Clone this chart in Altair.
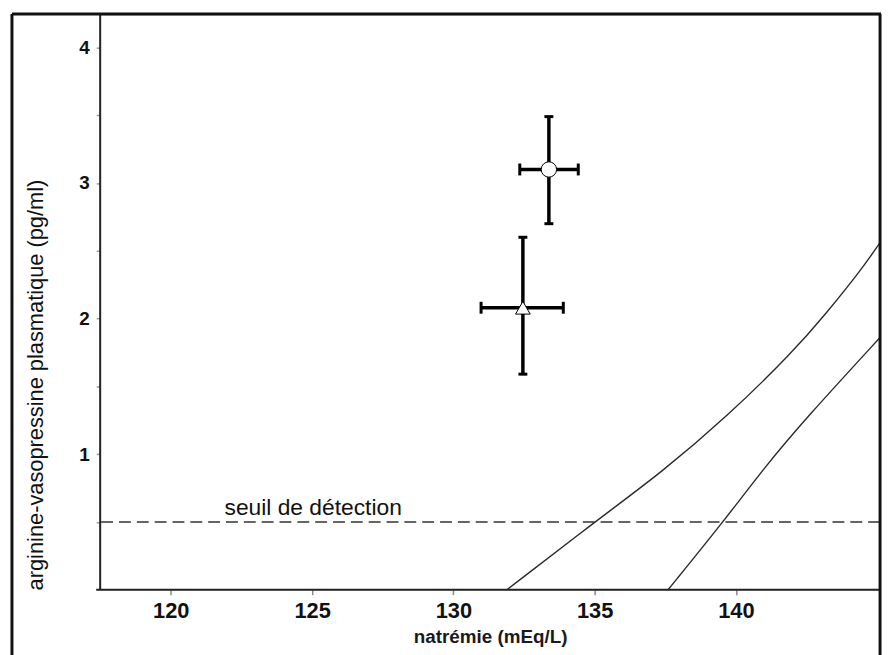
import altair as alt
import pandas as pd

# ---- data ----
x_ticks = [120, 125, 130, 135, 140]
y_ticks = [0.5, 1, 1.5, 2, 2.5, 3, 3.5, 4]

curve1_x = [131.9, 135.0, 137.4, 139.7, 142.0, 143.2, 144.4, 145.1]
curve1_y = [0.0, 0.5, 0.87, 1.28, 1.75, 2.04, 2.35, 2.56]
curve2_x = [137.6, 139.55, 141.0, 142.5, 145.1]
curve2_y = [0.0, 0.5, 0.9, 1.27, 1.86]

threshold = [0.5]
threshold_label = ["seuil de détection"]

pt_name = ["rond", "triangle"]
pt_x = [133.38, 132.46]
pt_y = [3.10, 2.08]
pt_x_lo = [132.35, 130.98]
pt_x_hi = [134.42, 133.89]
pt_y_lo = [2.70, 1.59]
pt_y_hi = [3.49, 2.60]

X_DOM = [117.5, 145.1]
Y_DOM = [0, 4.24]
W, H = 787, 580
FONT = "Liberation Sans"

curves = pd.DataFrame({
    "x": curve1_x + curve2_x,
    "y": curve1_y + curve2_y,
    "c": ["a"] * len(curve1_x) + ["b"] * len(curve2_x),
})
pts = pd.DataFrame({"name": pt_name, "x": pt_x, "y": pt_y,
                    "xlo": pt_x_lo, "xhi": pt_x_hi, "ylo": pt_y_lo, "yhi": pt_y_hi})
thr = pd.DataFrame({"y": threshold, "label": threshold_label, "x": [121.9], "ty": [0.55]})
one = pd.DataFrame({"k": [0]})

xs = alt.Scale(domain=X_DOM, nice=False, zero=False)
ys = alt.Scale(domain=Y_DOM, nice=False, zero=False)

x_axis = alt.Axis(values=x_ticks, labelFont=FONT, labelFontWeight="bold", labelFontSize=22,
                  labelColor="#111", labelPadding=6, tickSize=5, tickColor="#888", tickWidth=1.5,
                  domain=False, grid=False, title="natrémie (mEq/L)", titleFont=FONT,
                  titleFontSize=19, titleFontWeight="bold", titleColor="#1a1a1a",
                  titleY=53, titleBaseline="alphabetic", titleAnchor="middle")
y_axis = alt.Axis(values=y_ticks, labelExpr="datum.value % 1 == 0 ? format(datum.value, 'd') : ''",
                  labelFont=FONT, labelFontWeight="bold", labelFontSize=19, labelColor="#111",
                  labelPadding=7, tickSize=4, tickColor="#999", tickWidth=1.5, domain=False, grid=False,
                  title="arginine-vasopressine plasmatique (pg/ml)", titleFont=FONT, titleFontSize=22,
                  titleFontWeight="normal", titleColor="#111", titleAngle=-90, titleX=-58, titleY=373,
                  titleAlign="center", titleBaseline="alphabetic")


def X(field):
    return alt.X(field, scale=xs, axis=x_axis)


def Y(field):
    return alt.Y(field, scale=ys, axis=y_axis)


lines = alt.Chart(curves).mark_line(color="#2a2a2a", strokeWidth=1.4, interpolate="basis",
                                    clip=True).encode(x=X("x:Q"), y=Y("y:Q"), detail="c:N")

dash = alt.Chart(thr).mark_rule(color="#333", strokeWidth=1.6, strokeDash=[12, 6]).encode(
    y=Y("y:Q"))

label = alt.Chart(thr).mark_text(align="left", baseline="alphabetic", font=FONT, fontSize=23,
                                 color="#111").encode(x=X("x:Q"), y=Y("ty:Q"), text="label:N")

vbar = alt.Chart(pts).mark_rule(color="black", strokeWidth=3.5).encode(
    x=X("x:Q"), y=Y("ylo:Q"), y2="yhi:Q")
hbar = alt.Chart(pts).mark_rule(color="black", strokeWidth=3.5).encode(
    x=X("xlo:Q"), x2="xhi:Q", y=Y("y:Q"))

cap_lo = alt.Chart(pts).mark_tick(orient="horizontal", color="black", size=9, thickness=3,
                                  opacity=1).encode(x=X("x:Q"), y=Y("ylo:Q"))
cap_hi = alt.Chart(pts).mark_tick(orient="horizontal", color="black", size=9, thickness=3,
                                  opacity=1).encode(x=X("x:Q"), y=Y("yhi:Q"))
cap_l = alt.Chart(pts).mark_tick(orient="vertical", color="black", size=12, thickness=3,
                                 opacity=1).encode(x=X("xlo:Q"), y=Y("y:Q"))
cap_r = alt.Chart(pts).mark_tick(orient="vertical", color="black", size=12, thickness=3,
                                 opacity=1).encode(x=X("xhi:Q"), y=Y("y:Q"))

markers = alt.Chart(pts).mark_point(filled=True, fill="white", stroke="black", strokeWidth=1,
                                    opacity=1).encode(
    x=X("x:Q"), y=Y("y:Q"),
    shape=alt.Shape("name:N", scale=alt.Scale(domain=pt_name, range=["circle", "triangle-up"]),
                    legend=None),
    size=alt.Size("name:N", scale=alt.Scale(domain=pt_name, range=[240, 220]), legend=None),
)

# frame and axis lines (pixel positions relative to plot area)
y_line = alt.Chart(one).mark_rule(color="#222", strokeWidth=2).encode(
    x=alt.value(0), y=alt.value(0), y2=alt.value(H))
x_line = alt.Chart(one).mark_rule(color="#222", strokeWidth=2).encode(
    x=alt.value(-4), x2=alt.value(W), y=alt.value(H))
frame_top = alt.Chart(one).mark_rule(color="#111", strokeWidth=3).encode(
    x=alt.value(-89), x2=alt.value(W + 1), y=alt.value(-1))
frame_left = alt.Chart(one).mark_rule(color="#111", strokeWidth=3).encode(
    x=alt.value(-89), y=alt.value(-1), y2=alt.value(H + 90))
frame_right = alt.Chart(one).mark_rule(color="#111", strokeWidth=3).encode(
    x=alt.value(W), y=alt.value(-1), y2=alt.value(H + 90))

chart = alt.layer(
    lines, dash, label, vbar, hbar, cap_lo, cap_hi, cap_l, cap_r, markers,
    y_line, x_line, frame_top, frame_left, frame_right,
).properties(
    width=W, height=H,
    autosize=alt.AutoSizeParams(type="none"),
    padding={"left": 93, "top": 4, "right": 5, "bottom": 75},
).configure_view(stroke=None).configure(background="white")

chart.save("out.html", embed_options={"renderer": "svg", "actions": False})
